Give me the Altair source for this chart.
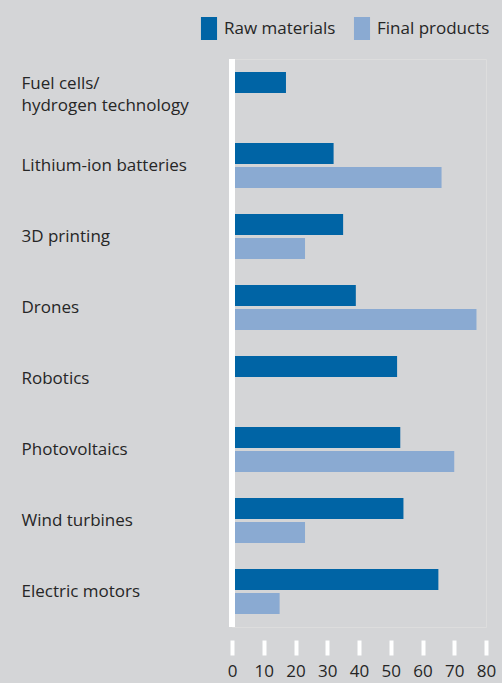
import altair as alt
import pandas as pd

categories = [
    "Fuel cells/|hydrogen technology",
    "Lithium-ion batteries",
    "3D printing",
    "Drones",
    "Robotics",
    "Photovoltaics",
    "Wind turbines",
    "Electric motors",
]
series = ["Raw materials", "Final products"]
raw_materials = [17, 32, 35, 39, 52, 53, 54, 65]
final_products = [None, 66, 23, 77, None, 70, 23, 15]
colors = ["#0064a5", "#8aaad2"]
ticks = [0, 10, 20, 30, 40, 50, 60, 70, 80]

rows = []
for c, r, f in zip(categories, raw_materials, final_products):
    if r is not None:
        rows.append({"category": c, "series": series[0], "value": r})
    if f is not None:
        rows.append({"category": c, "series": series[1], "value": f})
df = pd.DataFrame(rows)

FONT = "Open Sans"
TEXT = "#262626"
FS = 17

x_scale = alt.Scale(domain=[0, 80], nice=False)
x_axis = alt.Axis(
    values=ticks, tickCount=len(ticks), grid=False, domain=False, title=None,
    tickColor="white", tickWidth=4, tickSize=15, offset=13,
    labelFontSize=FS, labelPadding=8, labelColor=TEXT, labelFont=FONT,
    labelOverlap=False, labelFlush=False,
)

bars = alt.Chart(df).mark_bar().encode(
    x=alt.X("value:Q", scale=x_scale, axis=x_axis),
    y=alt.Y(
        "category:N", sort=categories,
        scale=alt.Scale(paddingInner=0.366, paddingOuter=0.183),
        axis=alt.Axis(
            title=None, ticks=False, domain=False,
            labelAlign="left", labelBaseline="middle", labelPadding=211,
            labelExpr="split(datum.label, '|')", labelLineHeight=22,
            labelOffset={"condition": {"test": "indexof(datum.value, '|') >= 0", "value": -11}, "value": 0},
            labelFontSize=FS, labelColor=TEXT, labelFont=FONT, labelLimit=300,
        ),
    ),
    yOffset=alt.YOffset(
        "series:N", sort=series,
        scale=alt.Scale(domain=series, paddingInner=0.125, paddingOuter=0),
    ),
    color=alt.Color(
        "series:N",
        scale=alt.Scale(domain=series, range=colors),
        legend=alt.Legend(
            title=None, orient="none", legendX=-34.5, legendY=-42,
            direction="horizontal", padding=0,
            symbolType="M-0.7,-1H0.7V1H-0.7Z", symbolSize=529,
            symbolStrokeWidth=0, symbolOpacity=1,
            labelFontSize=FS, labelOffset=3.5, columnPadding=15,
            labelColor=TEXT, labelFont=FONT,
        ),
    ),
)

zero = alt.Chart(pd.DataFrame({"value": [0]})).mark_rule(
    color="white", strokeWidth=6
).encode(x=alt.X("value:Q", scale=x_scale, axis=x_axis))

chart = alt.layer(bars, zero).properties(
    width=254, height=568,
    autosize=alt.AutoSizeParams(type="none"),
    padding={"left": 232, "top": 59, "right": 16, "bottom": 56},
    background="#d4d5d7",
).configure_view(stroke=None).configure(font=FONT)

chart.save("out.html", embed_options={"renderer": "svg", "actions": False})
